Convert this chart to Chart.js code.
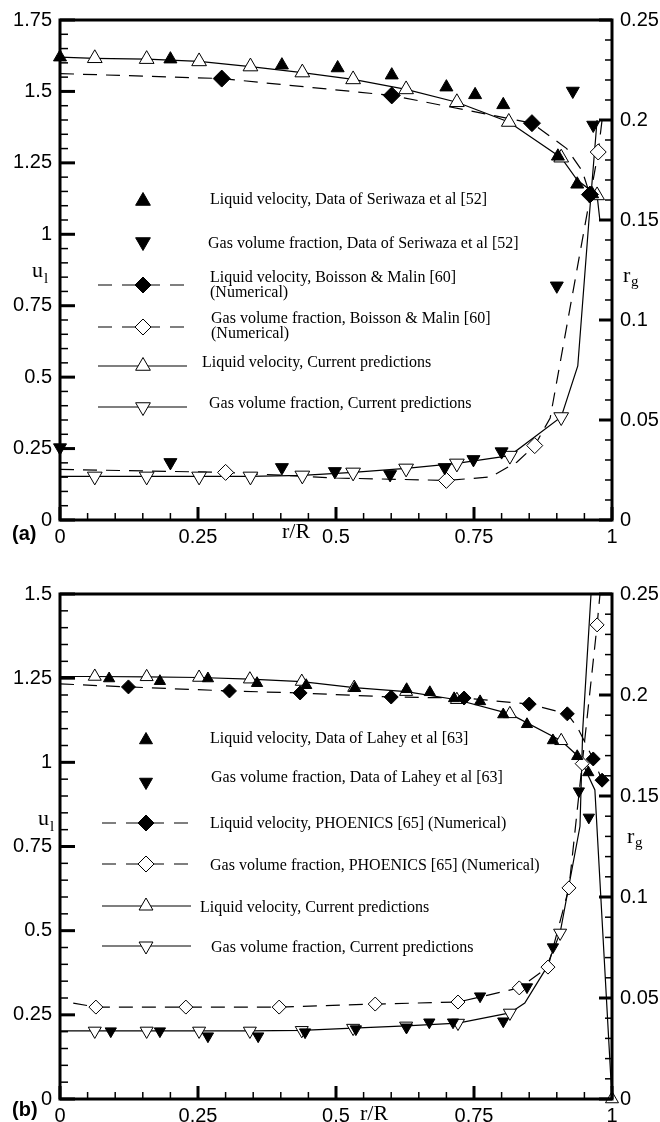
<!DOCTYPE html>
<html><head><meta charset="utf-8">
<script src="https://cdn.jsdelivr.net/npm/chart.js@4.4.1/dist/chart.umd.min.js"></script>
<style>
html,body{margin:0;padding:0;background:#fff;}
canvas{display:block;}
</style></head><body>
<canvas id="ca" width="660" height="561"></canvas>
<canvas id="cb" width="660" height="561"></canvas>
<script>
// ---------- tick labels ----------
const xTickLabels = ['0', '0.25', '0.5', '0.75', '1'];
const uTickLabelsA = ['0', '0.25', '0.5', '0.75', '1', '1.25', '1.5', '1.75'];
const uTickLabelsB = ['0', '0.25', '0.5', '0.75', '1', '1.25', '1.5'];
const gTickLabels = ['0', '0.05', '0.1', '0.15', '0.2', '0.25'];

// ---------- Panel (a) ----------
const seriLiqR = [0, 0.2, 0.402, 0.503, 0.601, 0.70, 0.752, 0.803, 0.902, 0.937, 0.964];
const seriLiqU = [1.62, 1.613, 1.592, 1.582, 1.557, 1.515, 1.488, 1.453, 1.273, 1.175, 1.141];
const seriGasR = [0, 0.2, 0.402, 0.498, 0.598, 0.697, 0.749, 0.80, 0.90, 0.929, 0.966];
const seriGasG = [0.0362, 0.0288, 0.0263, 0.0243, 0.0228, 0.0263, 0.0303, 0.0342, 0.1171, 0.2145, 0.1975];
const boissonLiqLineR = [0, 0.293, 0.601, 0.855, 0.918, 0.946, 0.96];
const boissonLiqLineU = [1.5625, 1.545, 1.486, 1.389, 1.30, 1.222, 1.139];
const boissonLiqMarkR = [0.293, 0.601, 0.855, 0.96];
const boissonLiqMarkU = [1.545, 1.486, 1.389, 1.139];
const boissonGasLineR = [0, 0.30, 0.50, 0.70, 0.78, 0.828, 0.86, 0.888, 0.975, 0.982];
const boissonGasLineG = [0.0253, 0.0238, 0.021, 0.0198, 0.0215, 0.029, 0.0372, 0.051, 0.184, 0.2];
const boissonGasMarkR = [0.30, 0.70, 0.86, 0.975];
const boissonGasMarkG = [0.0238, 0.0198, 0.0372, 0.184];
const curLiqLineRA = [0, 0.063, 0.157, 0.252, 0.345, 0.439, 0.531, 0.627, 0.719, 0.813, 0.908, 0.937, 0.973, 0.978];
const curLiqLineUA = [1.62, 1.616, 1.613, 1.605, 1.587, 1.566, 1.542, 1.507, 1.462, 1.393, 1.268, 1.19, 1.136, 1.05];
const curLiqMarkRA = [0.063, 0.157, 0.252, 0.345, 0.439, 0.531, 0.627, 0.719, 0.813, 0.908, 0.973];
const curLiqMarkUA = [1.616, 1.613, 1.605, 1.587, 1.566, 1.542, 1.507, 1.462, 1.393, 1.268, 1.136];
const curGasLineRA = [0, 0.063, 0.157, 0.252, 0.345, 0.439, 0.531, 0.627, 0.719, 0.815, 0.908, 0.938, 0.958, 0.973];
const curGasLineGA = [0.0218, 0.0218, 0.0218, 0.0218, 0.0218, 0.0223, 0.0238, 0.0258, 0.0283, 0.0322, 0.0515, 0.077, 0.149, 0.2];
const curGasMarkRA = [0.063, 0.157, 0.252, 0.345, 0.439, 0.531, 0.627, 0.719, 0.815, 0.908];
const curGasMarkGA = [0.0218, 0.0218, 0.0218, 0.0218, 0.0223, 0.0238, 0.0258, 0.0283, 0.0322, 0.0515];

// ---------- Panel (b) ----------
const laheyLiqR = [0.089, 0.181, 0.268, 0.357, 0.446, 0.534, 0.628, 0.670, 0.714, 0.761, 0.803, 0.846, 0.893, 0.937, 0.957];
const laheyLiqU = [1.249, 1.241, 1.249, 1.235, 1.229, 1.220, 1.217, 1.208, 1.190, 1.181, 1.142, 1.113, 1.065, 1.018, 0.970];
const laheyGasR = [0.092, 0.181, 0.268, 0.359, 0.444, 0.536, 0.628, 0.669, 0.712, 0.761, 0.803, 0.846, 0.893, 0.94, 0.958];
const laheyGasG = [0.0336, 0.0336, 0.0311, 0.0311, 0.0331, 0.0346, 0.0355, 0.038, 0.038, 0.0509, 0.0385, 0.0554, 0.0752, 0.1524, 0.1394];
const phoenLiqLineR = [0, 0.124, 0.307, 0.435, 0.60, 0.732, 0.85, 0.919, 0.937, 0.966, 0.982];
const phoenLiqLineU = [1.233, 1.224, 1.212, 1.206, 1.194, 1.191, 1.173, 1.144, 1.105, 1.01, 0.947];
const phoenLiqMarkR = [0.124, 0.307, 0.435, 0.60, 0.732, 0.85, 0.919, 0.966, 0.982];
const phoenLiqMarkU = [1.224, 1.212, 1.206, 1.194, 1.191, 1.173, 1.144, 1.01, 0.947];
const phoenGasLineR = [0.024, 0.065, 0.228, 0.397, 0.571, 0.721, 0.832, 0.884, 0.922, 0.946, 0.973, 0.98];
const phoenGasLineG = [0.0475, 0.0455, 0.0455, 0.0455, 0.047, 0.048, 0.055, 0.0653, 0.1045, 0.166, 0.2347, 0.255];
const phoenGasMarkR = [0.065, 0.228, 0.397, 0.571, 0.721, 0.832, 0.884, 0.922, 0.946, 0.973];
const phoenGasMarkG = [0.0455, 0.0455, 0.0455, 0.047, 0.048, 0.055, 0.0653, 0.1045, 0.166, 0.2347];
const curLiqLineRB = [0, 0.063, 0.157, 0.252, 0.344, 0.438, 0.533, 0.627, 0.719, 0.815, 0.908, 0.942, 0.969, 1.0];
const curLiqLineUB = [1.255, 1.255, 1.254, 1.252, 1.247, 1.240, 1.222, 1.21, 1.186, 1.144, 1.064, 1.013, 0.918, 0];
const curLiqMarkRB = [0.063, 0.157, 0.252, 0.344, 0.438, 0.533, 0.627, 0.719, 0.815, 0.908, 1.0];
const curLiqMarkUB = [1.255, 1.254, 1.252, 1.247, 1.240, 1.222, 1.21, 1.186, 1.144, 1.064, 0];
const curGasLineRB = [0, 0.063, 0.157, 0.252, 0.344, 0.438, 0.531, 0.627, 0.721, 0.815, 0.842, 0.879, 0.906, 0.942, 0.947, 0.962];
const curGasLineGB = [0.0337, 0.0337, 0.0337, 0.0337, 0.0337, 0.034, 0.0351, 0.0362, 0.0376, 0.0426, 0.0475, 0.0639, 0.0822, 0.135, 0.183, 0.25];
const curGasMarkRB = [0.063, 0.157, 0.252, 0.344, 0.438, 0.531, 0.627, 0.721, 0.815, 0.906];
const curGasMarkGB = [0.0337, 0.0337, 0.0337, 0.0337, 0.034, 0.0351, 0.0362, 0.0376, 0.0426, 0.0822];

// ---------- legend texts ----------
const legendTextA = [
  ['Liquid velocity, Data of Seriwaza et al [52]'],
  ['Gas volume fraction, Data of Seriwaza et al [52]'],
  ['Liquid velocity, Boisson & Malin [60]', '(Numerical)'],
  ['Gas volume fraction, Boisson & Malin [60]', '(Numerical)'],
  ['Liquid velocity, Current predictions'],
  ['Gas volume fraction, Current predictions']
];
const legendTextB = [
  ['Liquid velocity, Data of Lahey et al [63]'],
  ['Gas volume fraction, Data of Lahey et al [63]'],
  ['Liquid velocity, PHOENICS [65] (Numerical)'],
  ['Gas volume fraction, PHOENICS [65] (Numerical)'],
  ['Liquid velocity, Current predictions'],
  ['Gas volume fraction, Current predictions']
];

// ---------- helpers ----------
const pts = (xs, ys) => xs.map((x, i) => ({x: x, y: ys[i]}));
const SANS = "'Liberation Sans', Arial, sans-serif";
const SERIF = "'Liberation Serif', 'Times New Roman', serif";

function markerSet(label, xs, ys, axis, style, filled, rot, r) {
  return {
    label: label, data: pts(xs, ys), yAxisID: axis, showLine: false,
    pointStyle: style, pointRotation: rot, pointRadius: r, pointHoverRadius: r,
    pointBackgroundColor: filled ? '#000' : '#fff', pointBorderColor: '#000', pointBorderWidth: 1,
    clip: false
  };
}
function lineSet(label, xs, ys, axis, dashed) {
  return {
    label: label, data: pts(xs, ys), yAxisID: axis, showLine: true,
    pointRadius: 0, borderColor: '#000', borderWidth: 1.2, borderDash: dashed ? [14, 9] : [],
    tension: 0
  };
}

function drawShape(ctx, kind, x, y, r, filled) {
  ctx.beginPath();
  if (kind === 'up' || kind === 'down') {
    const s = kind === 'up' ? 1 : -1;
    ctx.moveTo(x, y - s * r);
    ctx.lineTo(x + r * Math.sin(2 * Math.PI / 3), y + s * r * 0.5);
    ctx.lineTo(x - r * Math.sin(2 * Math.PI / 3), y + s * r * 0.5);
  } else {
    ctx.moveTo(x - r, y); ctx.lineTo(x, y - r); ctx.lineTo(x + r, y); ctx.lineTo(x, y + r);
  }
  ctx.closePath();
  ctx.fillStyle = filled ? '#000' : '#fff';
  ctx.fill();
  ctx.lineWidth = 1; ctx.strokeStyle = '#000'; ctx.setLineDash([]);
  ctx.stroke();
}

function framePlugin(cfg) {
  return {
    id: 'frame' + cfg.tag,
    afterDatasetsDraw(chart) {
      const ctx = chart.ctx, a = chart.chartArea;
      const sx = chart.scales.x, sy = chart.scales.y, sy2 = chart.scales.y2;
      ctx.save();
      ctx.strokeStyle = '#000';
      ctx.setLineDash([]);
      const tick = (x1, y1, x2, y2, w) => { ctx.lineWidth = w; ctx.beginPath(); ctx.moveTo(x1, y1); ctx.lineTo(x2, y2); ctx.stroke(); };
      const nL = Math.round(cfg.uMax / 0.05);
      for (let i = 0; i <= nL; i++) {
        const p = sy.getPixelForValue(i * 0.05), maj = i % 5 === 0;
        tick(a.left, p, a.left + (maj ? 15 : 8), p, maj ? 3 : 1.5);
      }
      for (let i = 0; i <= 25; i++) {
        const p = sy2.getPixelForValue(i * 0.01), maj = i % 5 === 0;
        tick(a.right, p, a.right - (maj ? 13 : 7), p, maj ? 3 : 1.5);
      }
      for (let i = 0; i <= 20; i++) {
        const p = sx.getPixelForValue(i * 0.05), maj = i % 5 === 0;
        tick(p, a.bottom, p, a.bottom - (maj ? 13 : 7), maj ? 3 : 1.5);
      }
      ctx.lineWidth = 3;
      ctx.strokeRect(a.left, a.top, a.right - a.left, a.bottom - a.top);

      ctx.fillStyle = '#000';
      ctx.textAlign = 'left'; ctx.textBaseline = 'alphabetic';
      ctx.font = '22px ' + SERIF;
      ctx.fillText('r/R', cfg.rR[0], cfg.rR[1]);
      ctx.fillText('u', cfg.u[0], cfg.u[1]);
      ctx.fillText('r', cfg.rg[0], cfg.rg[1]);
      ctx.font = '15px ' + SERIF;
      ctx.fillText('l', cfg.u[0] + 12, cfg.u[1] + 6);
      ctx.fillText('g', cfg.rg[0] + 8, cfg.rg[1] + 4);
      ctx.font = 'bold 20px ' + SANS;
      ctx.fillText(cfg.tag, 12, cfg.tagY);

      cfg.legend.forEach((it, k) => {
        if (it.line) {
          ctx.lineWidth = 1.2;
          ctx.setLineDash(it.line === 'dash' ? [14, 10] : []);
          ctx.beginPath(); ctx.moveTo(cfg.lx[0], it.my); ctx.lineTo(cfg.lx[1], it.my); ctx.stroke();
          ctx.setLineDash([]);
        }
        drawShape(ctx, it.shape, cfg.mx, it.my, it.r, it.filled);
        ctx.fillStyle = '#000';
        ctx.font = '16px ' + SERIF;
        cfg.texts[k].forEach((t, j) => ctx.fillText(t, it.tx, it.ty[j]));
      });
      ctx.restore();
    }
  };
}

function scaleOpts(min, max, step, labels, pos, size, pad) {
  return {
    type: 'linear', position: pos, min: min, max: max,
    afterFit: (s) => { if (pos === 'bottom') s.height = size; else s.width = size; },
    grid: {display: false, drawTicks: false}, border: {display: false},
    ticks: {
      stepSize: step, color: '#000', padding: pad, maxRotation: 0, autoSkip: false,
      font: {family: SANS, size: 20},
      callback: (v) => labels[Math.round(v / step)]
    }
  };
}

function makeChart(id, datasets, uMax, uLabels, padTop, xHeight, cfg) {
  cfg.uMax = uMax;
  return new Chart(document.getElementById(id), {
    type: 'scatter',
    data: {datasets: datasets},
    options: {
      responsive: false, animation: false, devicePixelRatio: 1,
      layout: {padding: {top: padTop, left: 0, right: 0, bottom: 0}},
      plugins: {legend: {display: false}, tooltip: {enabled: false}},
      events: [],
      scales: {
        x: scaleOpts(0, 1, 0.25, xTickLabels, 'bottom', xHeight, 5),
        y: scaleOpts(0, uMax, 0.25, uLabels, 'left', 60, 8),
        y2: scaleOpts(0, 0.25, 0.05, gTickLabels, 'right', 48, 8)
      }
    },
    plugins: [framePlugin(cfg)]
  });
}

// ---------- panel (a) ----------
makeChart('ca', [
  markerSet('Liquid velocity, Data of Seriwaza et al [52]', seriLiqR, seriLiqU, 'y', 'triangle', true, 0, 7.5),
  markerSet('Gas volume fraction, Data of Seriwaza et al [52]', seriGasR, seriGasG, 'y2', 'triangle', true, 180, 7.5),
  markerSet('Liquid velocity, Boisson & Malin [60]', boissonLiqMarkR, boissonLiqMarkU, 'y', 'rectRot', true, 0, 8.5),
  markerSet('Gas volume fraction, Boisson & Malin [60]', boissonGasMarkR, boissonGasMarkG, 'y2', 'rectRot', false, 0, 8),
  markerSet('Liquid velocity, Current predictions', curLiqMarkRA, curLiqMarkUA, 'y', 'triangle', false, 0, 8.5),
  markerSet('Gas volume fraction, Current predictions', curGasMarkRA, curGasMarkGA, 'y2', 'triangle', false, 180, 8.5),
  lineSet('Boisson liquid line', boissonLiqLineR, boissonLiqLineU, 'y', true),
  lineSet('Boisson gas line', boissonGasLineR, boissonGasLineG, 'y2', true),
  lineSet('Current liquid line', curLiqLineRA, curLiqLineUA, 'y', false),
  lineSet('Current gas line', curGasLineRA, curGasLineGA, 'y2', false)
], 1.75, uTickLabelsA, 16, 41, {
  tag: '(a)', tagY: 540, rR: [282, 538], u: [32, 277], rg: [623, 282],
  mx: 143, lx: [98, 187], texts: legendTextA,
  legend: [
    {shape: 'up', filled: true, r: 8.5, my: 201, tx: 210, ty: [204]},
    {shape: 'down', filled: true, r: 8.5, my: 242, tx: 208, ty: [248]},
    {shape: 'dia', filled: true, r: 8, my: 285, tx: 210, ty: [282, 297], line: 'dash'},
    {shape: 'dia', filled: false, r: 8, my: 327, tx: 211, ty: [323, 338], line: 'dash'},
    {shape: 'up', filled: false, r: 8.5, my: 366, tx: 202, ty: [367], line: 'solid'},
    {shape: 'down', filled: false, r: 8.5, my: 407, tx: 209, ty: [408], line: 'solid'}
  ]
});

// ---------- panel (b) ----------
makeChart('cb', [
  markerSet('Liquid velocity, Data of Lahey et al [63]', laheyLiqR, laheyLiqU, 'y', 'triangle', true, 0, 6.5),
  markerSet('Gas volume fraction, Data of Lahey et al [63]', laheyGasR, laheyGasG, 'y2', 'triangle', true, 180, 6.5),
  markerSet('Liquid velocity, PHOENICS [65] (Numerical)', phoenLiqMarkR, phoenLiqMarkU, 'y', 'rectRot', true, 0, 7),
  markerSet('Gas volume fraction, PHOENICS [65] (Numerical)', phoenGasMarkR, phoenGasMarkG, 'y2', 'rectRot', false, 0, 7),
  markerSet('Liquid velocity, Current predictions', curLiqMarkRB, curLiqMarkUB, 'y', 'triangle', false, 0, 7.5),
  markerSet('Gas volume fraction, Current predictions', curGasMarkRB, curGasMarkGB, 'y2', 'triangle', false, 180, 7.5),
  lineSet('PHOENICS liquid line', phoenLiqLineR, phoenLiqLineU, 'y', true),
  lineSet('PHOENICS gas line', phoenGasLineR, phoenGasLineG, 'y2', true),
  lineSet('Current liquid line', curLiqLineRB, curLiqLineUB, 'y', false),
  lineSet('Current gas line', curGasLineRB, curGasLineGB, 'y2', false)
], 1.5, uTickLabelsB, 33, 23, {
  tag: '(b)', tagY: 555, rR: [360, 559], u: [38, 264], rg: [627, 282],
  mx: 146, lx: [102, 191], texts: legendTextB,
  legend: [
    {shape: 'up', filled: true, r: 7.5, my: 179, tx: 210, ty: [182]},
    {shape: 'down', filled: true, r: 7.5, my: 221, tx: 211, ty: [221]},
    {shape: 'dia', filled: true, r: 8, my: 262, tx: 210, ty: [267], line: 'dash'},
    {shape: 'dia', filled: false, r: 8, my: 303, tx: 210, ty: [309], line: 'dash'},
    {shape: 'up', filled: false, r: 8, my: 345, tx: 200, ty: [351], line: 'solid'},
    {shape: 'down', filled: false, r: 8, my: 385, tx: 211, ty: [391], line: 'solid'}
  ]
});
</script>
</body></html>
